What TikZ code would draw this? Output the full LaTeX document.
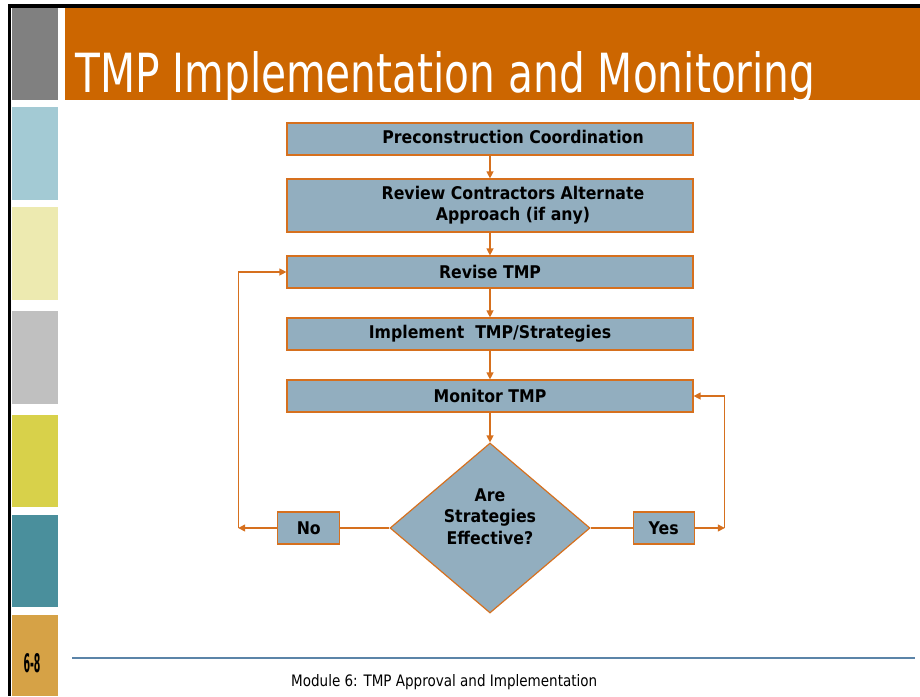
\documentclass[tikz,border=0pt]{standalone}
\usepackage{fontspec}
\setmainfont{DejaVu Sans}
\setsansfont{DejaVu Sans}
\newfontfamily\tmpfont[FakeStretch=0.9]{DejaVu Sans}
\usetikzlibrary{arrows.meta,positioning,shapes.geometric}
\definecolor{tmporange}{RGB}{204,102,0}
\definecolor{tmpline}{RGB}{214,112,30}
\definecolor{tmpfill}{RGB}{146,174,191}
\definecolor{tmprule}{RGB}{91,132,168}
\definecolor{bargray}{RGB}{128,128,128}
\definecolor{barblue}{RGB}{163,202,212}
\definecolor{barcream}{RGB}{237,234,176}
\definecolor{barsilver}{RGB}{192,192,192}
\definecolor{baryellow}{RGB}{216,209,74}
\definecolor{barteal}{RGB}{74,143,156}
\definecolor{bartan}{RGB}{214,162,70}
\newcommand{\tmpbold}{\tmpfont\fontsize{17.5}{21.5}\selectfont\bfseries}
\newcommand{\offcentre}[1]{\hspace*{46pt}\begin{tabular}{@{}c@{}}#1\end{tabular}}
\tikzset{
  tmp/box/.style={draw=tmpline, fill=tmpfill, line width=1.2pt, minimum width=406pt, minimum height=32pt, inner sep=2pt, font=\tmpbold},
  tmp/tall/.style={tmp/box, minimum height=53pt},
  tmp/answer/.style={tmp/box, minimum width=62pt},
  tmp/decision/.style={draw=tmpline, fill=tmpfill, diamond, line width=1.2pt, inner sep=0pt, minimum width=200pt, minimum height=170pt, font=\tmpbold},
  tmp/arrow/.style={draw=tmpline, line width=1.3pt, -{Triangle[length=7pt,width=7pt]}},
  tmp/line/.style={draw=tmpline, line width=1.3pt}
}

\begin{document}
\begin{tikzpicture}[x=1pt, y=-1pt, node distance=22.8pt]
  \useasboundingbox (0,0) rectangle (920,696);
  % slide frame and side bars
  \fill[black] (8,4) rectangle (920,8);
  \fill[black] (8,4) rectangle (11,696);
  \fill[bargray] (12,8) rectangle (58,100);
  \fill[tmporange] (65,8) rectangle (920,100);
  \fill[barblue] (12,107) rectangle (58,200);
  \fill[barcream] (12,207) rectangle (58,300);
  \fill[barsilver] (12,311) rectangle (58,404);
  \fill[baryellow] (12,415) rectangle (58,507);
  \fill[barteal] (12,515) rectangle (58,607);
  \fill[bartan] (12,615) rectangle (58,696);
  \draw[tmprule, line width=2pt] (72,658) -- (915,658);

  \node[anchor=base west, inner sep=0pt, text=white] (title) at (75,92)
    {\resizebox{740pt}{41pt}{TMP Implementation and Monitoring}};
  \node[inner sep=0pt] (page) at (32,663) {\resizebox{17pt}{19pt}{\bfseries 6-8}};
  \node[anchor=base west, inner sep=0pt] (footer) at (291,686)
    {\resizebox{306pt}{12pt}{Module 6: TMP Approval and Implementation}};

  % flow chart
  \node[tmp/box] (precon) at (490,139) {\offcentre{Preconstruction Coordination}};
  \node[tmp/tall, below=of precon] (review) {\offcentre{Review Contractors Alternate\\Approach (if any)}};
  \node[tmp/box, below=of review] (revise) {Revise TMP};
  \node[tmp/box, below=28.8pt of revise] (implement) {Implement\ \ TMP/Strategies};
  \node[tmp/box, below=28.8pt of implement] (monitor) {Monitor TMP};
  \node[tmp/decision, below=29.8pt of monitor] (effective)
    {\raisebox{5pt}[0pt][0pt]{\begin{tabular}{@{}c@{}}Are\\Strategies\\Effective?\end{tabular}}};
  \node[tmp/answer, left=49pt of effective] (no) {No};
  \node[tmp/answer, minimum width=61pt, right=42pt of effective] (yes) {Yes};
  \coordinate[left=39pt of no] (noturn);
  \coordinate[right=30pt of yes] (yesturn);

  \draw[tmp/arrow] (precon) -- (review);
  \draw[tmp/arrow] (review) -- (revise);
  \draw[tmp/arrow] (revise) -- (implement);
  \draw[tmp/arrow] (implement) -- (monitor);
  \draw[tmp/arrow] (monitor) -- (effective);
  \draw[tmp/line] (effective.west) -- (no);
  \draw[tmp/line] (effective.east) -- (yes);
  \draw[tmp/arrow] (no) -- (noturn);
  \draw[tmp/arrow] (noturn) |- (revise);
  \draw[tmp/arrow] (yes) -- (yesturn);
  \draw[tmp/arrow] (yesturn) |- (monitor);
\end{tikzpicture}
\end{document}
